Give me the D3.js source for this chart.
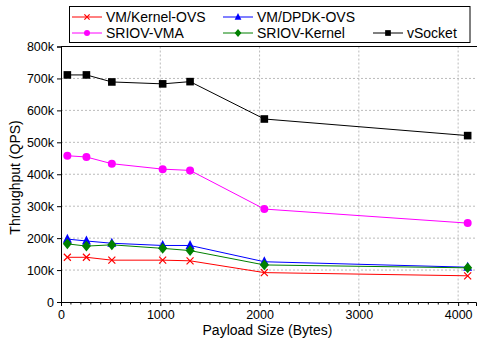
<!DOCTYPE html>
<html>
<head>
<meta charset="utf-8">
<script src="https://cdn.jsdelivr.net/npm/d3@7"></script>
<style>
  body { margin: 0; background: #fff; }
  text { font-family: "Liberation Sans", Arial, Helvetica, sans-serif; fill: #000; }
</style>
</head>
<body>
<div id="chart"></div>
<script>
// Payload sizes (bytes)
const payloads = [64, 256, 512, 1024, 1300, 2048, 4096];

// Throughput (QPS) per configuration
const kernelOvs = [140000, 140000, 131000, 131000, 129000, 92000, 82000];
const dpdkOvs = [197000, 191000, 184000, 177000, 177000, 126000, 109000];
const sriovVma = [458000, 454000, 433000, 416000, 412000, 291000, 247000];
const sriovKernel = [182000, 175000, 179000, 168000, 161000, 116000, 107000];
const vsocket = [711000, 711000, 689000, 683000, 690000, 573000, 521000];

const yTicks = [0, 100000, 200000, 300000, 400000, 500000, 600000, 700000, 800000];
const xTicks = [0, 1000, 2000, 3000, 4000];

const series = [
    { name: "VM/Kernel-OVS", values: kernelOvs, color: "#ff0000", marker: "x" },
    { name: "VM/DPDK-OVS", values: dpdkOvs, color: "#0000ff", marker: "triangle" },
    { name: "SRIOV-VMA", values: sriovVma, color: "#ff00ff", marker: "circle" },
    { name: "SRIOV-Kernel", values: sriovKernel, color: "#008000", marker: "diamond" },
    { name: "vSocket", values: vsocket, color: "#000000", marker: "square" }
];

const width = 477, height = 343;
const margin = { top: 46.5, right: 1, bottom: 41, left: 61 };

const svg = d3.select("#chart").append("svg")
    .attr("width", width)
    .attr("height", height);

const x = d3.scaleLinear().domain([0, 4180]).range([margin.left, width - margin.right]);
const y = d3.scaleLinear().domain([0, 800000]).range([height - margin.bottom, margin.top]);

// Grid lines
svg.append("g").selectAll("line")
    .data(yTicks.filter(d => d > 0 && d < 800000))
    .join("line")
    .attr("x1", margin.left).attr("x2", width - margin.right)
    .attr("y1", d => y(d)).attr("y2", d => y(d))
    .attr("stroke", "#bbb").attr("stroke-width", 1).attr("stroke-dasharray", "2,2");

svg.append("g").selectAll("line")
    .data(xTicks.filter(d => d > 0))
    .join("line")
    .attr("x1", d => x(d)).attr("x2", d => x(d))
    .attr("y1", margin.top).attr("y2", height - margin.bottom)
    .attr("stroke", "#bbb").attr("stroke-width", 1).attr("stroke-dasharray", "2,2");

// Axes
const fmtK = d => d === 0 ? "0" : (d / 1000) + "k";

const yAxis = svg.append("g")
    .attr("transform", `translate(${margin.left},0)`)
    .call(d3.axisLeft(y).tickValues(yTicks).tickFormat(fmtK).tickSize(4).tickPadding(3));
yAxis.select(".domain").attr("stroke", "#000");
yAxis.selectAll("text").style("font-size", "12.5px");

const xAxis = svg.append("g")
    .attr("transform", `translate(0,${height - margin.bottom})`)
    .call(d3.axisBottom(x).tickValues(xTicks).tickSize(4).tickPadding(4).tickFormat(d3.format("d")));
xAxis.select(".domain").attr("stroke", "#000");
xAxis.selectAll("text").style("font-size", "12.5px");

// Minor x ticks every 100
svg.append("g").selectAll("line")
    .data(d3.range(100, 4180, 100).filter(d => d % 1000 !== 0))
    .join("line")
    .attr("x1", d => x(d)).attr("x2", d => x(d))
    .attr("y1", height - margin.bottom).attr("y2", height - margin.bottom + 2.5)
    .attr("stroke", "#000");

// Top border
svg.append("line")
    .attr("x1", margin.left).attr("x2", width)
    .attr("y1", y(800000)).attr("y2", y(800000))
    .attr("stroke", "#000");

// Axis titles
svg.append("text")
    .attr("x", x(2080)).attr("y", 335)
    .attr("text-anchor", "middle")
    .style("font-size", "14px")
    .text("Payload Size (Bytes)");

svg.append("text")
    .attr("transform", `translate(20,${y(390000)}) rotate(-90)`)
    .attr("text-anchor", "middle")
    .style("font-size", "14px")
    .text("Throughput (QPS)");

// Marker drawing
function drawMarker(g, type, color, s) {
    if (type === "x") {
        g.append("path")
            .attr("d", `M${-s},${-s}L${s},${s}M${-s},${s}L${s},${-s}`)
            .attr("stroke", color).attr("stroke-width", 1.2).attr("fill", "none");
    } else if (type === "circle") {
        g.append("circle").attr("r", s).attr("fill", color);
    } else if (type === "square") {
        g.append("rect").attr("x", -s).attr("y", -s).attr("width", 2 * s).attr("height", 2 * s).attr("fill", color);
    } else if (type === "triangle") {
        g.append("path")
            .attr("d", `M0,${-s * 1.2}L${s},${s * 0.8}L${-s},${s * 0.8}Z`)
            .attr("fill", color);
    } else if (type === "diamond") {
        g.append("path")
            .attr("d", `M0,${-s * 1.2}L${s},0L0,${s * 1.2}L${-s},0Z`)
            .attr("fill", color);
    }
}

const markerSize = { x: 3.5, circle: 4, square: 3.8, triangle: 4.5, diamond: 4.5 };

const line = d3.line()
    .x((d, i) => x(payloads[i]))
    .y(d => y(d));

series.forEach(s => {
    svg.append("path")
        .datum(s.values)
        .attr("d", line)
        .attr("fill", "none")
        .attr("stroke", s.color)
        .attr("stroke-width", 1);

    s.values.forEach((v, i) => {
        const g = svg.append("g").attr("transform", `translate(${x(payloads[i])},${y(v)})`);
        drawMarker(g, s.marker, s.color, markerSize[s.marker]);
    });
});

// Legend
const legend = svg.append("g");
legend.append("rect")
    .attr("x", 69.5).attr("y", 6.5).attr("width", 400.5).attr("height", 36)
    .attr("fill", "#fff").attr("stroke", "#000").attr("stroke-width", 1);

const legendPos = [
    { x: 72, y: 17 }, { x: 223, y: 17 },
    { x: 72, y: 33 }, { x: 223, y: 33 }, { x: 373, y: 33 }
];

series.forEach((s, i) => {
    const p = legendPos[i];
    const g = legend.append("g");
    g.append("line")
        .attr("x1", p.x).attr("x2", p.x + 30)
        .attr("y1", p.y).attr("y2", p.y)
        .attr("stroke", s.color).attr("stroke-width", 1);
    const m = g.append("g").attr("transform", `translate(${p.x + 15},${p.y})`);
    drawMarker(m, s.marker, s.color, markerSize[s.marker] * 0.75);
    g.append("text")
        .attr("x", p.x + 34).attr("y", p.y)
        .attr("dy", "0.36em")
        .style("font-size", "14px")
        .text(s.name);
});
</script>
</body>
</html>
